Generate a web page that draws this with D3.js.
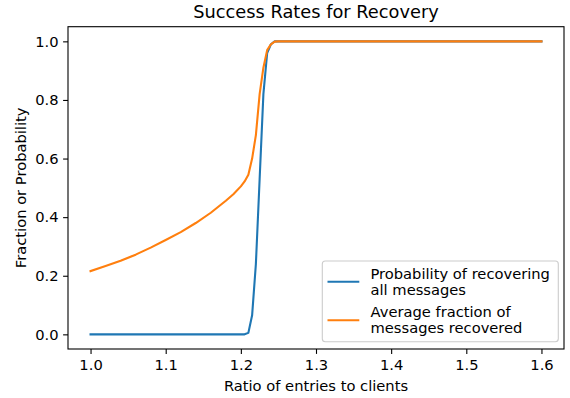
<!DOCTYPE html>
<html>
<head>
<meta charset="utf-8">
<script src="https://cdn.jsdelivr.net/npm/d3@7"></script>
<style>
  body { margin: 0; background: #fff; }
  svg text { font-family: "DejaVu Sans", sans-serif; fill: #000; }
</style>
</head>
<body>
<svg id="chart" width="570" height="398"></svg>
<script>
// ratio of entries to clients (x samples)
const ratios = [1.00, 1.02, 1.04, 1.06, 1.08, 1.10, 1.12, 1.14, 1.16, 1.18, 1.19, 1.20,
  1.205, 1.21, 1.215, 1.22, 1.225, 1.23, 1.235, 1.24, 1.245, 1.25, 1.30, 1.40, 1.50, 1.60];
// probability of recovering all messages
const probAll = [0, 0, 0, 0, 0, 0, 0, 0, 0, 0, 0, 0,
  0, 0.005, 0.065, 0.24, 0.53, 0.82, 0.96, 0.99, 1.0, 1.0, 1.0, 1.0, 1.0, 1.0];
// average fraction of messages recovered
const fracRecovered = [0.216, 0.233, 0.251, 0.272, 0.296, 0.322, 0.349, 0.380, 0.415, 0.456, 0.478, 0.505,
  0.522, 0.545, 0.60, 0.68, 0.82, 0.91, 0.97, 0.99, 0.999, 1.0, 1.0, 1.0, 1.0, 1.0];

const xTicks = [1.0, 1.1, 1.2, 1.3, 1.4, 1.5, 1.6];
const yTicks = [0.0, 0.2, 0.4, 0.6, 0.8, 1.0];

const seriesNames = [["Probability of recovering", "all messages"], ["Average fraction of", "messages recovered"]];
const colors = ["#1f77b4", "#ff7f0e"];

const svg = d3.select("#chart");
const plotL = 68, plotR = 564, plotT = 26.7, plotB = 349;
const fs = 14.7;

const x = d3.scaleLinear().domain([0.97, 1.63]).range([plotL, plotR]);
const y = d3.scaleLinear().domain([-0.05, 1.05]).range([plotB, plotT]);

// axes
const xAxis = d3.axisBottom(x).tickValues(xTicks).tickFormat(d3.format(".1f"))
  .tickSize(4.9).tickPadding(6);
const yAxis = d3.axisLeft(y).tickValues(yTicks).tickFormat(d3.format(".1f"))
  .tickSize(4.9).tickPadding(4.5);

const gx = svg.append("g").attr("transform", `translate(0,${plotB})`).call(xAxis);
const gy = svg.append("g").attr("transform", `translate(${plotL},0)`).call(yAxis);
[gx, gy].forEach(g => {
  g.select(".domain").remove();
  g.selectAll(".tick line").attr("stroke", "#000").attr("stroke-width", 1.1);
  g.selectAll(".tick text").attr("font-size", fs).attr("font-family", "DejaVu Sans");
});

// lines
svg.append("clipPath").attr("id", "plot-clip")
  .append("rect").attr("x", plotL).attr("y", plotT).attr("width", plotR - plotL).attr("height", plotB - plotT);

const line = d3.line().x(d => x(d[0])).y(d => y(d[1]));
[probAll, fracRecovered].forEach((vals, i) => {
  svg.append("path")
    .datum(ratios.map((r, j) => [r, vals[j]]))
    .attr("clip-path", "url(#plot-clip)")
    .attr("fill", "none")
    .attr("stroke", colors[i])
    .attr("stroke-width", 2.1)
    .attr("stroke-linejoin", "round")
    .attr("stroke-linecap", "square")
    .attr("d", line);
});

// frame
svg.append("rect")
  .attr("x", plotL).attr("y", plotT).attr("width", plotR - plotL).attr("height", plotB - plotT)
  .attr("fill", "none").attr("stroke", "#000").attr("stroke-width", 1.1);

// title + labels
svg.append("text").attr("x", (plotL + plotR) / 2).attr("y", 17.5)
  .attr("text-anchor", "middle").attr("font-size", 17.8).text("Success Rates for Recovery");
svg.append("text").attr("x", (plotL + plotR) / 2).attr("y", 390.5)
  .attr("text-anchor", "middle").attr("font-size", fs).text("Ratio of entries to clients");
svg.append("text")
  .attr("transform", `translate(26,${(plotT + plotB) / 2}) rotate(-90)`)
  .attr("text-anchor", "middle").attr("font-size", fs).text("Fraction or Probability");

// legend
const lg = svg.append("g");
lg.append("rect").attr("x", 322.3).attr("y", 261).attr("width", 236).attr("height", 80.7)
  .attr("rx", 3).attr("fill", "#fff").attr("fill-opacity", 0.8)
  .attr("stroke", "#cccccc").attr("stroke-width", 1.1);
seriesNames.forEach((lines, i) => {
  const y0 = 273.3 + i * 38.4;
  lg.append("line").attr("x1", 327.5).attr("x2", 359.3)
    .attr("y1", y0 + 8.5).attr("y2", y0 + 8.5)
    .attr("stroke", colors[i]).attr("stroke-width", 2.1);
  lines.forEach((t, k) => {
    lg.append("text").attr("x", 370.5).attr("y", y0 + k * 16)
      .attr("dy", "0.36em").attr("font-size", fs).text(t);
  });
});
</script>
</body>
</html>
